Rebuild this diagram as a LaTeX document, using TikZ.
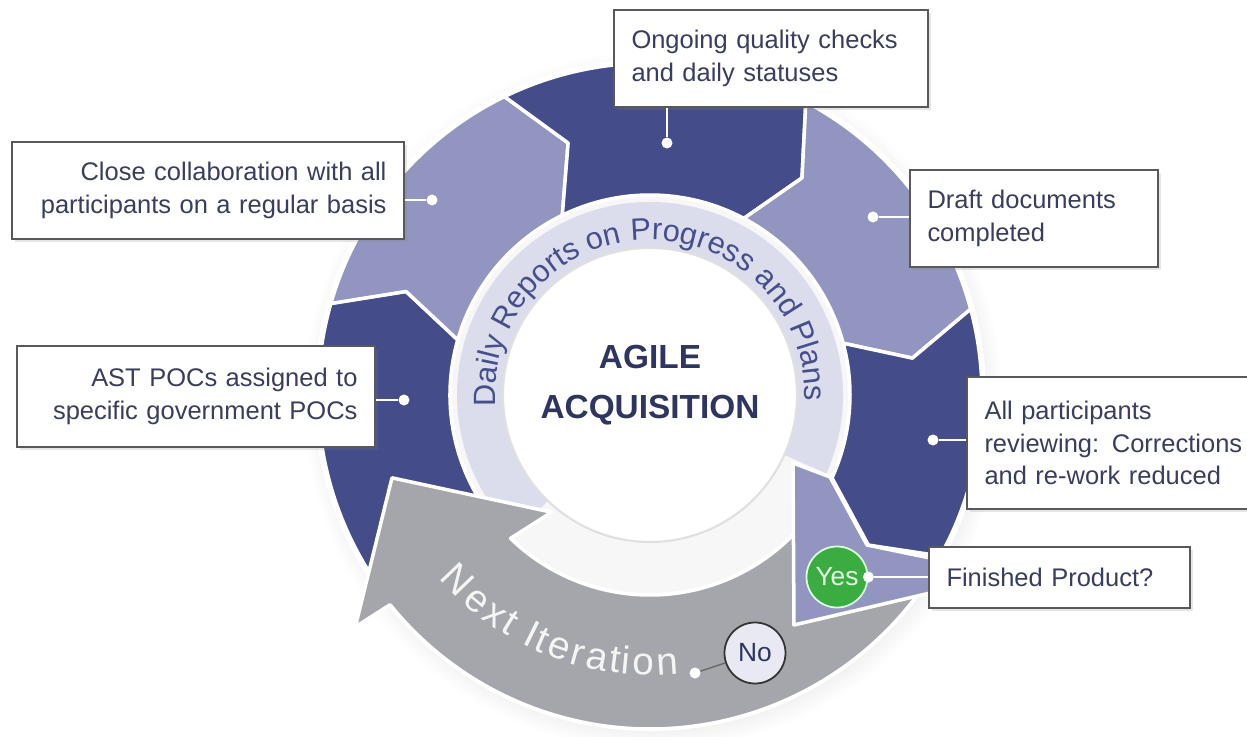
\documentclass[tikz,border=0pt]{standalone}
\usepackage{fontspec}
\setmainfont{Liberation Sans}
\usepackage{tikz}
\usetikzlibrary{shadows,decorations.text}

\definecolor{segdark}{RGB}{68,77,138}
\definecolor{seglight}{RGB}{146,149,192}
\definecolor{ringcol}{RGB}{220,221,236}
\definecolor{ringtext}{RGB}{70,78,140}
\definecolor{arrowgray}{RGB}{165,166,171}
\definecolor{boxtext}{RGB}{58,62,94}
\definecolor{agilecol}{RGB}{46,53,96}
\definecolor{yesgreen}{RGB}{58,172,66}
\definecolor{nofill}{RGB}{232,233,242}

\begin{document}
\begin{tikzpicture}[
  box/.style={draw=black!65, fill=white, line width=0.9pt, inner xsep=0.35cm, inner ysep=0pt,
    text=boxtext, font=\fontsize{14.5}{18.5}\selectfont,
    drop shadow={opacity=0.2, shadow xshift=0.06cm, shadow yshift=-0.06cm}},
  seg/.style={draw=white, line width=2pt, line join=round},
  link/.style={draw=white, line width=1.5pt},
  dot/.style={circle, fill=white, inner sep=0pt, minimum size=0.22cm},
  answer/.style={circle, inner sep=0pt, minimum size=1.22cm, line width=1pt,
    font=\fontsize{15}{15}\selectfont}]
  \useasboundingbox (-13,-6.82) rectangle (11.94,7.9);

  % ring of steps
  \fill[white, circular drop shadow={opacity=0.25, shadow scale=1.04, shadow yshift=-0.1cm}] (0,0) circle (6.72);
  \foreach \ao/\at/\ai/\bo/\bt/\bi/\c in {230/230/230/164/157/164/segdark,
      164/157/164/116/108/116/seglight, 116/108/116/62/55/62/segdark,
      62/55/62/15/8/15/seglight, 15/8/15/-29/-34.5/-24.5/segdark}
    \filldraw[seg, fill=\c] (\ao:6.64) arc[start angle=\ao, end angle=\bo, radius=6.64]
      -- (\bt:5.3) -- (\bi:4) arc[start angle=\bi, end angle=\ai, radius=4] -- (\at:5.3) -- cycle;

  % centre
  \fill[black!3] (0,0) circle (3.96);
  \fill[ringcol] (-24:3.86) arc[start angle=-24, end angle=226, radius=3.86]
    -- (226:2.94) arc[start angle=226, end angle=-24, radius=2.94] -- cycle;
  \filldraw[fill=white, draw=black!12, line width=1.2pt] (0,0) circle (2.94);

  % next iteration arrow and finished wedge
  \filldraw[seg, fill=arrowgray] (-37:6.68) arc[start angle=-37, end angle=-141.1, radius=6.68]
    -- (-141.8:7.5) -- (-162.2:5.42) -- (-130:3.06) -- (-134.2:4)
    arc[start angle=-134.2, end angle=-37, radius=4] -- cycle;
  \filldraw[seg, fill=seglight] (2.86,-1.36) -- (3.60,-1.64) -- (4.34,-3.00) -- (5.60,-3.26)
    -- (5.60,-3.96) -- (2.88,-4.60) -- cycle;

  \path[decorate, decoration={text along path, text align=center,
      text={|\fontsize{17.5}{17.5}\selectfont\color{ringtext}|Daily Reports on Progress and Plans}}]
    (190:3.1) arc[start angle=190, end angle=-8, radius=3.1];
  \path[decorate, decoration={text effects along path, text={Next Iteration},
      text effects/.cd, text along path, fit text to path,
      characters={text=white!92!gray, font=\fontsize{22}{22}\selectfont}}]
    (221:5.6) arc[start angle=221, end angle=276, radius=5.6];

  \node[align=center, font=\bfseries\fontsize{19}{28.4}\selectfont, text=agilecol] (agile) at (0,0.2)
    {AGILE\\ACQUISITION};

  % answers
  \node[answer, fill=yesgreen, draw=green!15, text=green!10] (yes) at (3.74,-3.64) {Yes};
  \node[answer, fill=nofill, draw=black!80, text=agilecol] (no) at (2.10,-5.16) {No};
  \node[dot] (dno) at (0.90,-5.56) {};
  \draw[black!60, line width=0.8pt] (dno) -- (no);

  % labels
  \node[box, text width=5.58cm, minimum height=1.94cm, align=left] (ongoing) at (2.42,6.73)
    {Ongoing quality checks\\and daily statuses};
  \node[box, text width=7.14cm, minimum height=1.94cm, align=right] (close) at (-8.84,4.09)
    {Close collaboration with all\\participants on a regular basis};
  \node[box, text width=6.46cm, minimum height=2.02cm, align=right] (ast) at (-9.08,-0.03)
    {AST POCs assigned to\\specific government POCs};
  \node[box, text width=4.26cm, minimum height=1.94cm, align=left] (draft) at (7.68,3.53)
    {Draft documents\\completed};
  \node[box, text width=5.4cm, minimum height=2.64cm, align=left] (review) at (9.39,-0.96)
    {All participants\\reviewing: Corrections\\and re-work reduced};
  \node[box, text width=4.52cm, minimum height=1.22cm, align=left] (finished) at (8.19,-3.65)
    {Finished Product?};

  \node[dot] (dongoing) at (0.34,5.04) {};
  \node[dot] (dclose) at (-4.36,3.90) {};
  \node[dot] (dast) at (-4.92,-0.10) {};
  \node[dot] (ddraft) at (4.46,3.56) {};
  \node[dot] (dreview) at (5.66,-0.90) {};
  \node[dot] (dyes) at (yes.east) {};

  \draw[link] (dongoing) -- (dongoing |- ongoing.south);
  \draw[link] (dclose) -- (dclose -| close.east);
  \draw[link] (dast) -- (dast -| ast.east);
  \draw[link] (ddraft) -- (ddraft -| draft.west);
  \draw[link] (dreview) -- (dreview -| review.west);
  \draw[link] (dyes) -- (dyes -| finished.west);
\end{tikzpicture}
\end{document}
